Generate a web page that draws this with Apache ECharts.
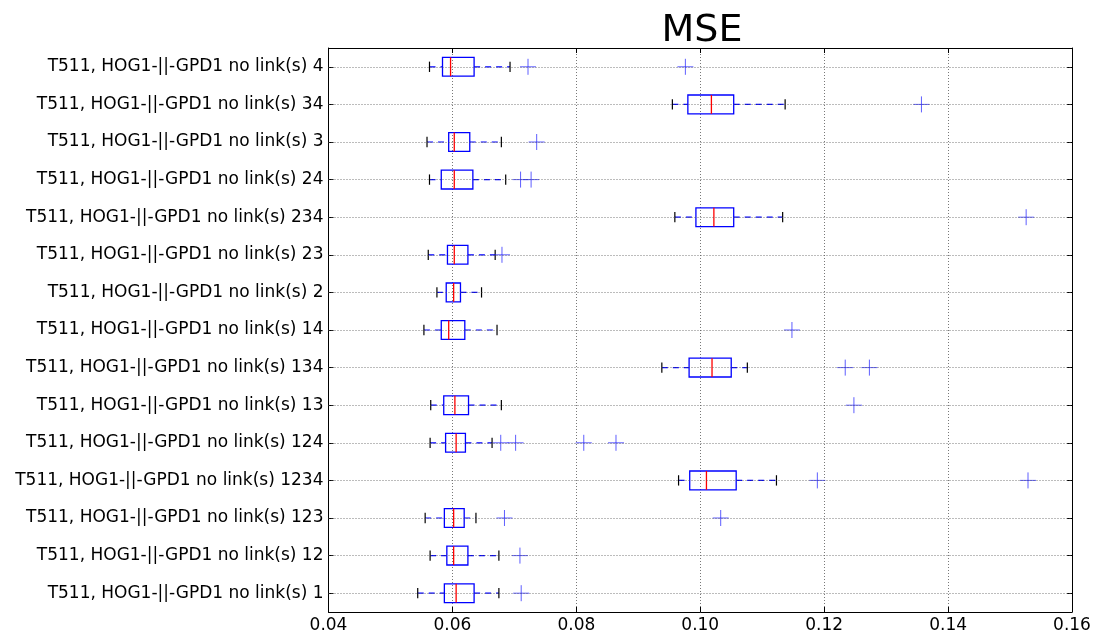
<!DOCTYPE html>
<html>
<head>
<meta charset="utf-8">
<title>MSE</title>
<script src="https://cdn.jsdelivr.net/npm/echarts@6/dist/echarts.min.js"></script>
<style>
  html, body { margin: 0; padding: 0; background: #fff; }
  #chart { width: 1100px; height: 635px; }
</style>
</head>
<body>
<div id="chart"></div>
<script>
// Row labels, listed from top to bottom
const categories = [
  'T511, HOG1-||-GPD1 no link(s) 4',
  'T511, HOG1-||-GPD1 no link(s) 34',
  'T511, HOG1-||-GPD1 no link(s) 3',
  'T511, HOG1-||-GPD1 no link(s) 24',
  'T511, HOG1-||-GPD1 no link(s) 234',
  'T511, HOG1-||-GPD1 no link(s) 23',
  'T511, HOG1-||-GPD1 no link(s) 2',
  'T511, HOG1-||-GPD1 no link(s) 14',
  'T511, HOG1-||-GPD1 no link(s) 134',
  'T511, HOG1-||-GPD1 no link(s) 13',
  'T511, HOG1-||-GPD1 no link(s) 124',
  'T511, HOG1-||-GPD1 no link(s) 1234',
  'T511, HOG1-||-GPD1 no link(s) 123',
  'T511, HOG1-||-GPD1 no link(s) 12',
  'T511, HOG1-||-GPD1 no link(s) 1'
];

// Five-number summaries per row (same order as categories)
const whiskerLow  = [0.0563, 0.0955, 0.0559, 0.0563, 0.0959, 0.0561, 0.0575, 0.0554, 0.0938, 0.0565, 0.0564, 0.0965, 0.0556, 0.0564, 0.0544];
const quartile1   = [0.0584, 0.0980, 0.0594, 0.0582, 0.0993, 0.0592, 0.0590, 0.0582, 0.0982, 0.0586, 0.0589, 0.0983, 0.0587, 0.0591, 0.0587];
const medians     = [0.0597, 0.1018, 0.0603, 0.0603, 0.1022, 0.0603, 0.0602, 0.0594, 0.1019, 0.0604, 0.0606, 0.1010, 0.0602, 0.0602, 0.0606];
const quartile3   = [0.0635, 0.1054, 0.0628, 0.0633, 0.1054, 0.0625, 0.0613, 0.0620, 0.1050, 0.0626, 0.0621, 0.1058, 0.0619, 0.0625, 0.0635];
const whiskerHigh = [0.0693, 0.1137, 0.0679, 0.0686, 0.1133, 0.0669, 0.0647, 0.0672, 0.1076, 0.0679, 0.0664, 0.1123, 0.0638, 0.0675, 0.0675];

// Flier points per row
const outliers = [
  [0.0722, 0.0976],
  [0.1357],
  [0.0736],
  [0.0710, 0.0727],
  [0.1526],
  [0.0680],
  [],
  [0.1148],
  [0.1234, 0.1273],
  [0.1248],
  [0.0678, 0.0702, 0.0812, 0.0864],
  [0.1189, 0.1529],
  [0.0684, 0.1033],
  [0.0709],
  [0.0711]
];

const xTicks = { min: 0.04, max: 0.16, interval: 0.02 };

const boxData = categories.map((c, i) =>
  [i, whiskerLow[i], quartile1[i], medians[i], quartile3[i], whiskerHigh[i]]);
const flierData = [];
outliers.forEach((list, i) => list.forEach(v => flierData.push([v, i])));

const FONT = 'DejaVu Sans';
const BLUE = '#0000ff';

function renderBox(params, api) {
  const cat = api.value(0);
  const pLo = api.coord([api.value(1), cat]);
  const pQ1 = api.coord([api.value(2), cat]);
  const pMd = api.coord([api.value(3), cat]);
  const pQ3 = api.coord([api.value(4), cat]);
  const pHi = api.coord([api.value(5), cat]);
  const band = api.size([0, 1])[1];
  const h = band * 0.5;
  const y = pMd[1];
  const capH = h * 0.55;
  return {
    type: 'group',
    children: [
      { type: 'line', shape: { x1: pLo[0], y1: y, x2: pQ1[0], y2: y },
        style: { stroke: BLUE, lineWidth: 1.2, lineDash: [6, 5] } },
      { type: 'line', shape: { x1: pQ3[0], y1: y, x2: pHi[0], y2: y },
        style: { stroke: BLUE, lineWidth: 1.2, lineDash: [6, 5] } },
      { type: 'line', shape: { x1: pLo[0], y1: y - capH / 2, x2: pLo[0], y2: y + capH / 2 },
        style: { stroke: '#000', lineWidth: 1.2 } },
      { type: 'line', shape: { x1: pHi[0], y1: y - capH / 2, x2: pHi[0], y2: y + capH / 2 },
        style: { stroke: '#000', lineWidth: 1.2 } },
      { type: 'rect', shape: { x: pQ1[0], y: y - h / 2, width: pQ3[0] - pQ1[0], height: h },
        style: { fill: 'none', stroke: BLUE, lineWidth: 1.3 } },
      { type: 'line', shape: { x1: pMd[0], y1: y - h / 2, x2: pMd[0], y2: y + h / 2 },
        style: { stroke: '#ff0000', lineWidth: 1.3 } }
    ]
  };
}

function renderFlier(params, api) {
  const p = api.coord([api.value(0), api.value(1)]);
  const r = 8;
  return {
    type: 'group',
    children: [
      { type: 'line', shape: { x1: p[0] - r, y1: p[1], x2: p[0] + r, y2: p[1] },
        style: { stroke: 'rgba(40,40,255,0.75)', lineWidth: 1 } },
      { type: 'line', shape: { x1: p[0], y1: p[1] - r, x2: p[0], y2: p[1] + r },
        style: { stroke: 'rgba(40,40,255,0.75)', lineWidth: 1 } }
    ]
  };
}

const gridLineStyle = { color: '#555', width: 0.8, type: [1, 2] };

const chart = echarts.init(document.getElementById('chart'), null, { renderer: 'canvas' });
chart.setOption({
  animation: false,
  backgroundColor: '#fff',
  title: {
    text: 'MSE',
    left: 697,
    textAlign: 'center',
    top: 7,
    textStyle: { fontFamily: FONT, fontSize: 38, fontWeight: 'normal', color: '#000' }
  },
  grid: { left: 328.5, right: 28, top: 48, bottom: 23, containLabel: false },
  xAxis: [
    {
      type: 'value', position: 'bottom',
      min: xTicks.min, max: xTicks.max, interval: xTicks.interval,
      axisLine: { show: true, onZero: false, lineStyle: { color: '#000', width: 1 } },
      axisTick: { show: true, inside: true, length: 5, lineStyle: { color: '#000' } },
      axisLabel: { fontFamily: FONT, fontSize: 17, color: '#000', margin: 5,
        formatter: v => v.toFixed(2) },
      splitLine: { show: true, lineStyle: gridLineStyle }
    },
    {
      type: 'value', position: 'top',
      min: xTicks.min, max: xTicks.max, interval: xTicks.interval,
      axisLine: { show: true, onZero: false, lineStyle: { color: '#000', width: 1 } },
      axisTick: { show: true, inside: true, length: 5, lineStyle: { color: '#000' } },
      axisLabel: { show: false },
      splitLine: { show: false }
    }
  ],
  yAxis: [
    {
      type: 'category', position: 'left', inverse: true, data: categories,
      axisLine: { show: true, onZero: false, lineStyle: { color: '#000', width: 1 } },
      axisTick: { show: true, inside: true, length: 5, alignWithLabel: true, lineStyle: { color: '#000' } },
      axisLabel: { fontFamily: FONT, fontSize: 17, color: '#000', margin: 5 },
      splitLine: { show: false }
    },
    {
      type: 'category', position: 'right', inverse: true, data: categories,
      axisLine: { show: true, onZero: false, lineStyle: { color: '#000', width: 1 } },
      axisTick: { show: true, inside: true, length: 5, alignWithLabel: true, lineStyle: { color: '#000' } },
      axisLabel: { show: false },
      splitLine: { show: false }
    }
  ],
  series: [
    {
      type: 'custom',
      name: 'rowGrid',
      xAxisIndex: 0, yAxisIndex: 0,
      data: [],
      markLine: {
        silent: true,
        symbol: ['none', 'none'],
        label: { show: false },
        lineStyle: gridLineStyle,
        data: categories.map(c => ({ yAxis: c }))
      },
      renderItem: () => null,
      z: 1
    },
    {
      type: 'custom',
      name: 'MSE',
      xAxisIndex: 0, yAxisIndex: 0,
      data: boxData,
      encode: { y: 0, x: [1, 2, 3, 4, 5] },
      renderItem: renderBox,
      z: 3
    },
    {
      type: 'custom',
      name: 'fliers',
      xAxisIndex: 0, yAxisIndex: 0,
      data: flierData,
      encode: { x: 0, y: 1 },
      renderItem: renderFlier,
      z: 4
    }
  ]
});
</script>
</body>
</html>
